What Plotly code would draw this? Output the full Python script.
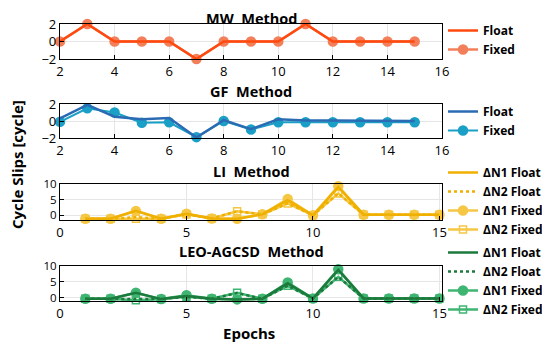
import plotly.graph_objects as go

# ---------------- data ----------------
epochs_a = [2, 3, 4, 5, 6, 7, 8, 9, 10, 11, 12, 13, 14, 15]
mw_float = [0, 2, 0, 0, 0, -2, 0, 0, 0, 2, 0, 0, 0, 0]
mw_fixed = [0, 2, 0, 0, 0, -2, 0, 0, 0, 2, 0, 0, 0, 0]

gf_float = [0.3, 1.9, 0.5, 0.2, 0.35, -1.95, 0.1, -0.95, 0.2, 0.05, 0.05, 0.05, 0.05, 0.0]
gf_fixed = [-0.1, 1.5, 1.0, -0.2, -0.15, -1.9, 0.0, -1.0, -0.15, -0.15, -0.15, -0.15, -0.15, -0.15]

epochs_b = [1, 2, 3, 4, 5, 6, 7, 8, 9, 10, 11, 12, 13, 14, 15]
li_n1_float = [-1.1, -1.1, 1.4, -1.1, 0.5, -1.0, -1.1, 0.3, 4.8, 0.0, 9.0, 0.2, 0.2, 0.2, 0.2]
li_n2_float = [-1.1, -1.1, -0.6, -1.1, 0.3, -1.0, 1.3, 0.3, 3.8, 0.0, 7.0, 0.2, 0.2, 0.2, 0.2]
li_n1_fixed = [-1.1, -1.1, 1.4, -1.1, 0.5, -1.0, -1.1, 0.3, 5.2, 0.0, 9.3, 0.2, 0.2, 0.2, 0.2]
li_n2_fixed = [-1.1, -1.1, -1.1, -1.1, 0.3, -1.0, 1.3, 0.3, 3.8, 0.0, 7.0, 0.2, 0.2, 0.2, 0.2]

leo_n1_float = [-0.3, -0.3, 1.6, -0.4, 0.6, -0.3, -0.5, -0.3, 4.6, -0.2, 8.8, -0.2, -0.2, -0.2, -0.2]
leo_n2_float = [-0.3, -0.3, -0.5, -0.4, 0.3, -0.3, 1.5, -0.3, 3.8, -0.2, 6.6, -0.2, -0.2, -0.2, -0.2]
leo_n1_fixed = [-0.3, -0.3, 1.6, -0.4, 0.8, -0.3, -0.5, -0.3, 4.8, -0.2, 9.0, -0.2, -0.2, -0.2, -0.2]
leo_n2_fixed = [-0.3, -0.3, -0.8, -0.4, 0.3, -0.3, 1.6, -0.3, 3.8, -0.2, 6.6, -0.2, -0.2, -0.2, -0.2]

titles = ["MW  Method", "GF  Method", "LI  Method", "LEO-AGCSD  Method"]

# ---------------- figure ----------------
# the page body keeps its default 8px margin, so the figure starts 8px in;
# positions below are page pixels converted to figure fractions.
OFF = 8
W, H = 550 - OFF, 348 - OFF
FONT = "Open Sans"
fig = go.Figure()

def px(xp):
    return (xp - OFF) / W

def py(yp):
    return (H - (yp - OFF)) / H

def add(x, y, name, color, ax, leg, rank, dash="solid", mode="lines", symbol="circle", msize=9, width=2.5):
    fig.add_trace(go.Scatter(
        x=x, y=y, name=name, mode=mode,
        line=dict(color=color, width=width, dash=dash),
        marker=dict(color=color, size=msize, symbol=symbol,
                    line=dict(color=color, width=1.5)),
        xaxis="x" + ax, yaxis="y" + ax, legend=leg, legendrank=rank,
        cliponaxis=False,
    ))

# MW
add(epochs_a, mw_fixed, "Fixed", "#f37f5a", "", "legend", 2, mode="lines+markers")
add(epochs_a, mw_float, "Float", "#ff4a0f", "", "legend", 1)
# GF
add(epochs_a, gf_fixed, "Fixed", "#1a9fc6", "2", "legend2", 2, mode="lines+markers", width=2)
add(epochs_a, gf_float, "Float", "#2a6bb3", "2", "legend2", 1)
# LI
gold, gold_l = "#efb000", "#f6c744"
add(epochs_b, li_n1_fixed, "ΔN1 Fixed", gold_l, "3", "legend3", 3, mode="lines+markers")
add(epochs_b, li_n2_fixed, "ΔN2 Fixed", gold_l, "3", "legend3", 4, mode="lines+markers",
    symbol="square-open", msize=7)
add(epochs_b, li_n1_float, "ΔN1 Float", gold, "3", "legend3", 1)
add(epochs_b, li_n2_float, "ΔN2 Float", gold, "3", "legend3", 2, dash="dot")
# LEO
green, green_l = "#1d7a3d", "#3eb571"
add(epochs_b, leo_n1_fixed, "ΔN1 Fixed", green_l, "4", "legend4", 3, mode="lines+markers")
add(epochs_b, leo_n2_fixed, "ΔN2 Fixed", green_l, "4", "legend4", 4, mode="lines+markers",
    symbol="square-open", msize=7)
add(epochs_b, leo_n1_float, "ΔN1 Float", green, "4", "legend4", 1)
add(epochs_b, leo_n2_float, "ΔN2 Float", green, "4", "legend4", 2, dash="dot")

# panel geometry in page pixels (top, bottom)
x0, x1 = 60, 442
panels = [(24, 59), (104, 138), (184, 220), (266, 301)]
xranges = [[2, 16], [2, 16], [0, 15.1], [0, 15.1]]
xticks = [[2, 4, 6, 8, 10, 12, 14, 16], [2, 4, 6, 8, 10, 12, 14, 16], [0, 5, 10, 15], [0, 5, 10, 15]]
yranges = [[-2, 2], [-2, 2], [-1.5, 10], [-1, 10]]
yticks = [[-2, 0, 2], [-2, 0, 2], [0, 5, 10], [0, 5, 10]]
ytick_size = [13, 13, 11.5, 11.5]

axis_common = dict(showline=True, linecolor="black", linewidth=1.3, mirror=True,
                   showgrid=True, gridcolor="#e6e6e6", gridwidth=1, zeroline=False,
                   ticks="inside", ticklen=4, tickcolor="black")
layout = {}
for i, ((t, b), xr, xt, yr, yt) in enumerate(zip(panels, xranges, xticks, yranges, yticks)):
    sfx = "" if i == 0 else str(i + 1)
    layout["xaxis" + sfx] = dict(domain=[px(x0), px(x1)], range=xr, tickvals=xt,
                                 anchor="y" + sfx,
                                 tickfont=dict(family=FONT, size=13, color="black"),
                                 **axis_common)
    layout["yaxis" + sfx] = dict(domain=[py(b), py(t)], range=yr, tickvals=yt,
                                 anchor="x" + sfx,
                                 tickfont=dict(family=FONT, size=ytick_size[i], color="black"),
                                 **axis_common)

# legends (page pixel of top edge)
leg_font = dict(family=FONT, size=12, color="black", weight="bold")
leg_pos = [16, 97, 158, 238]
for i, ytop in enumerate(leg_pos):
    key = "legend" if i == 0 else "legend" + str(i + 1)
    layout[key] = dict(x=px(443), y=py(ytop), xanchor="left", yanchor="top",
                       font=leg_font, bgcolor="rgba(0,0,0,0)", tracegroupgap=0,
                       itemwidth=30)

annotations = []
title_y = [18, 91, 171, 251]
for txt, ty in zip(titles, title_y):
    annotations.append(dict(text=txt, x=px(251), y=py(ty), xref="paper", yref="paper",
                            showarrow=False, xanchor="center", yanchor="middle",
                            font=dict(family=FONT, size=14.5, color="black", weight="bold")))
annotations.append(dict(text="Cycle Slips [cycle]", x=px(17), y=py(165),
                        xref="paper", yref="paper", showarrow=False, textangle=-90,
                        xanchor="center", yanchor="middle",
                        font=dict(family=FONT, size=15, color="black", weight="bold")))
annotations.append(dict(text="Epochs", x=px(249), y=py(333),
                        xref="paper", yref="paper", showarrow=False,
                        xanchor="center", yanchor="middle",
                        font=dict(family=FONT, size=15, color="black", weight="bold")))

fig.update_layout(width=W, height=H,
                  margin=dict(l=0, r=0, t=0, b=0, pad=0, autoexpand=False),
                  paper_bgcolor="white", plot_bgcolor="white",
                  annotations=annotations, showlegend=True, **layout)

fig.write_html("out.html")
